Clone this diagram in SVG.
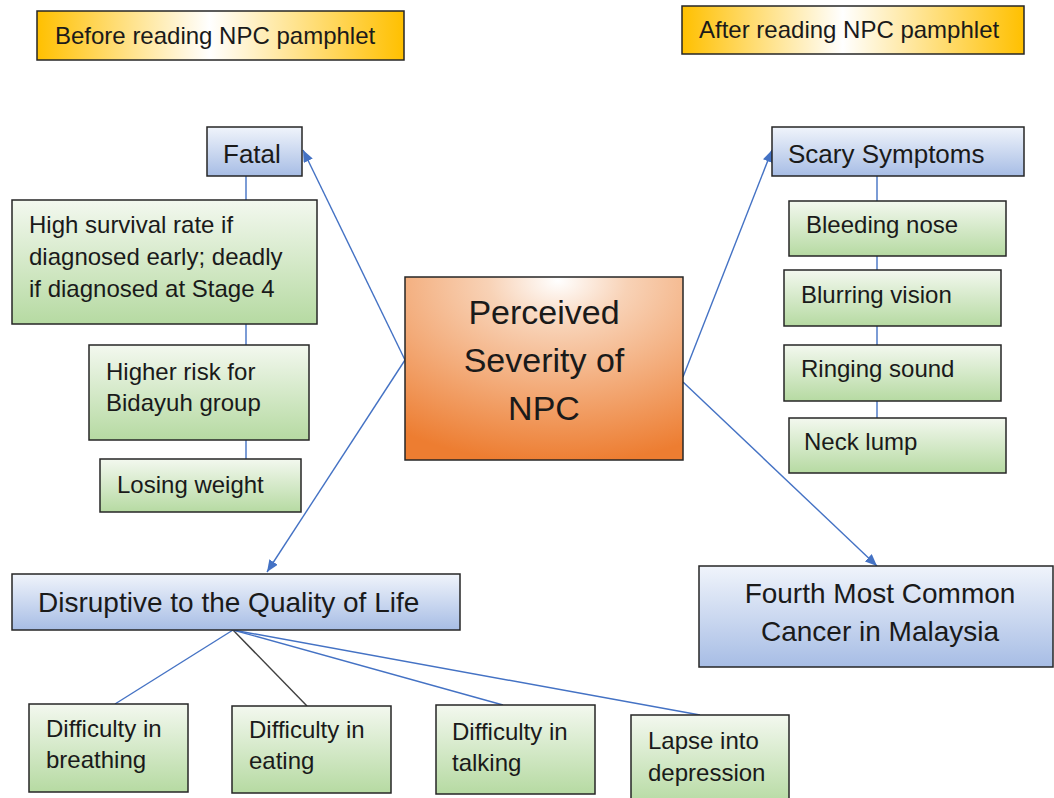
<svg xmlns="http://www.w3.org/2000/svg" width="1054" height="798" viewBox="0 0 1054 798">
<style>
  text { font-family: "Liberation Sans", Arial, sans-serif; fill: #1a1a1a; }
  .box { stroke: #262626; stroke-width: 1.5; }
  .gold { fill: url(#gGold); }
  .blue { fill: url(#gBlue); }
  .green { fill: url(#gGreen); }
  .con { stroke: #4472C4; stroke-width: 1.4; fill: none; }
  .arr { marker-end: url(#ah); }
  .hdr { font-size: 24px; }
  .sm { font-size: 24px; }
  .mid { font-size: 26px; }
  .big { font-size: 28px; }
  .ctr { font-size: 34px; }
</style>
<defs>
  <linearGradient id="gGold" x1="0" y1="0" x2="1" y2="0">
    <stop offset="0" stop-color="#FFC000"/>
    <stop offset="0.47" stop-color="#FFFFFF"/>
    <stop offset="1" stop-color="#FFC000"/>
  </linearGradient>
  <linearGradient id="gBlue" x1="0" y1="0" x2="0" y2="1">
    <stop offset="0" stop-color="#F0F4FB"/>
    <stop offset="1" stop-color="#A7BDE5"/>
  </linearGradient>
  <linearGradient id="gGreen" x1="0" y1="0" x2="0" y2="1">
    <stop offset="0" stop-color="#F3F8EF"/>
    <stop offset="1" stop-color="#B6DAA2"/>
  </linearGradient>
  <radialGradient id="gOrange" cx="0.55" cy="0.02" r="1.0" fx="0.55" fy="0.02">
    <stop offset="0" stop-color="#FFFFFF"/>
    <stop offset="0.25" stop-color="#F8D2B6"/>
    <stop offset="1" stop-color="#ED7D31"/>
  </radialGradient>
  <marker id="ah" markerUnits="userSpaceOnUse" markerWidth="12" markerHeight="10" refX="12" refY="5" orient="auto">
    <path d="M0,0 L12,5 L0,10 z" fill="#4472C4"/>
  </marker>
</defs>

<g id="connectors">
  <line class="con arr" x1="405" y1="360" x2="303" y2="150"/>
  <line class="con arr" x1="405" y1="360" x2="267" y2="572"/>
  <line class="con arr" x1="683" y1="377" x2="772" y2="150"/>
  <line class="con arr" x1="683" y1="382" x2="877" y2="566"/>
  <line class="con" x1="246" y1="176" x2="246" y2="459"/>
  <line class="con" x1="877" y1="176" x2="877" y2="418"/>
  <line class="con" x1="233" y1="630" x2="115" y2="704"/>
  <line class="con" x1="233" y1="630" x2="307" y2="706" style="stroke:#404040"/>
  <line class="con" x1="233" y1="630" x2="503" y2="705"/>
  <line class="con" x1="233" y1="630" x2="700" y2="715"/>
</g>

<g id="before-header">
  <rect class="box gold" x="37" y="11" width="367" height="49"/>
  <text class="hdr" x="55" y="44">Before reading NPC pamphlet</text>
</g>
<g id="after-header">
  <rect class="box gold" x="682" y="6" width="342" height="48"/>
  <text class="hdr" x="699" y="38">After reading NPC pamphlet</text>
</g>

<g id="center">
  <rect class="box" x="405" y="277" width="278" height="183" fill="url(#gOrange)"/>
  <text class="ctr" x="544" y="324" text-anchor="middle">Perceived</text>
  <text class="ctr" x="544" y="372" text-anchor="middle">Severity of</text>
  <text class="ctr" x="544" y="420" text-anchor="middle">NPC</text>
</g>

<g id="fatal">
  <rect class="box blue" x="207" y="127" width="95" height="49"/>
  <text class="mid" x="223" y="163">Fatal</text>
</g>
<g id="high-survival">
  <rect class="box green" x="12" y="200" width="305" height="124"/>
  <text class="sm" x="29" y="233">High survival rate if</text>
  <text class="sm" x="29" y="265">diagnosed early; deadly</text>
  <text class="sm" x="29" y="297">if diagnosed at Stage 4</text>
</g>
<g id="higher-risk">
  <rect class="box green" x="89" y="345" width="220" height="95"/>
  <text class="sm" x="106" y="380">Higher risk for</text>
  <text class="sm" x="106" y="411">Bidayuh group</text>
</g>
<g id="losing-weight">
  <rect class="box green" x="100" y="459" width="201" height="53"/>
  <text class="sm" x="117" y="493">Losing weight</text>
</g>

<g id="scary">
  <rect class="box blue" x="772" y="127" width="252" height="49"/>
  <text class="mid" x="788" y="163">Scary Symptoms</text>
</g>
<g id="bleeding-nose">
  <rect class="box green" x="789" y="201" width="217" height="55"/>
  <text class="sm" x="806" y="233">Bleeding nose</text>
</g>
<g id="blurring-vision">
  <rect class="box green" x="784" y="270" width="217" height="56"/>
  <text class="sm" x="801" y="303">Blurring vision</text>
</g>
<g id="ringing-sound">
  <rect class="box green" x="784" y="345" width="217" height="56"/>
  <text class="sm" x="801" y="377">Ringing sound</text>
</g>
<g id="neck-lump">
  <rect class="box green" x="789" y="418" width="217" height="55"/>
  <text class="sm" x="804" y="450">Neck lump</text>
</g>

<g id="fourth">
  <rect class="box blue" x="699" y="566" width="354" height="101"/>
  <text class="big" x="880" y="603" text-anchor="middle">Fourth Most Common</text>
  <text class="big" x="880" y="641" text-anchor="middle">Cancer in Malaysia</text>
</g>

<g id="disruptive">
  <rect class="box blue" x="12" y="574" width="448" height="56"/>
  <text class="big" x="38" y="612">Disruptive to the Quality of Life</text>
</g>
<g id="breathing">
  <rect class="box green" x="29" y="704" width="159" height="88"/>
  <text class="sm" x="46" y="737">Difficulty in</text>
  <text class="sm" x="46" y="768">breathing</text>
</g>
<g id="eating">
  <rect class="box green" x="232" y="706" width="159" height="87"/>
  <text class="sm" x="249" y="738">Difficulty in</text>
  <text class="sm" x="249" y="769">eating</text>
</g>
<g id="talking">
  <rect class="box green" x="436" y="705" width="159" height="89"/>
  <text class="sm" x="452" y="740">Difficulty in</text>
  <text class="sm" x="452" y="771">talking</text>
</g>
<g id="depression">
  <rect class="box green" x="631" y="715" width="158" height="90"/>
  <text class="sm" x="648" y="749">Lapse into</text>
  <text class="sm" x="648" y="781">depression</text>
</g>
</svg>
